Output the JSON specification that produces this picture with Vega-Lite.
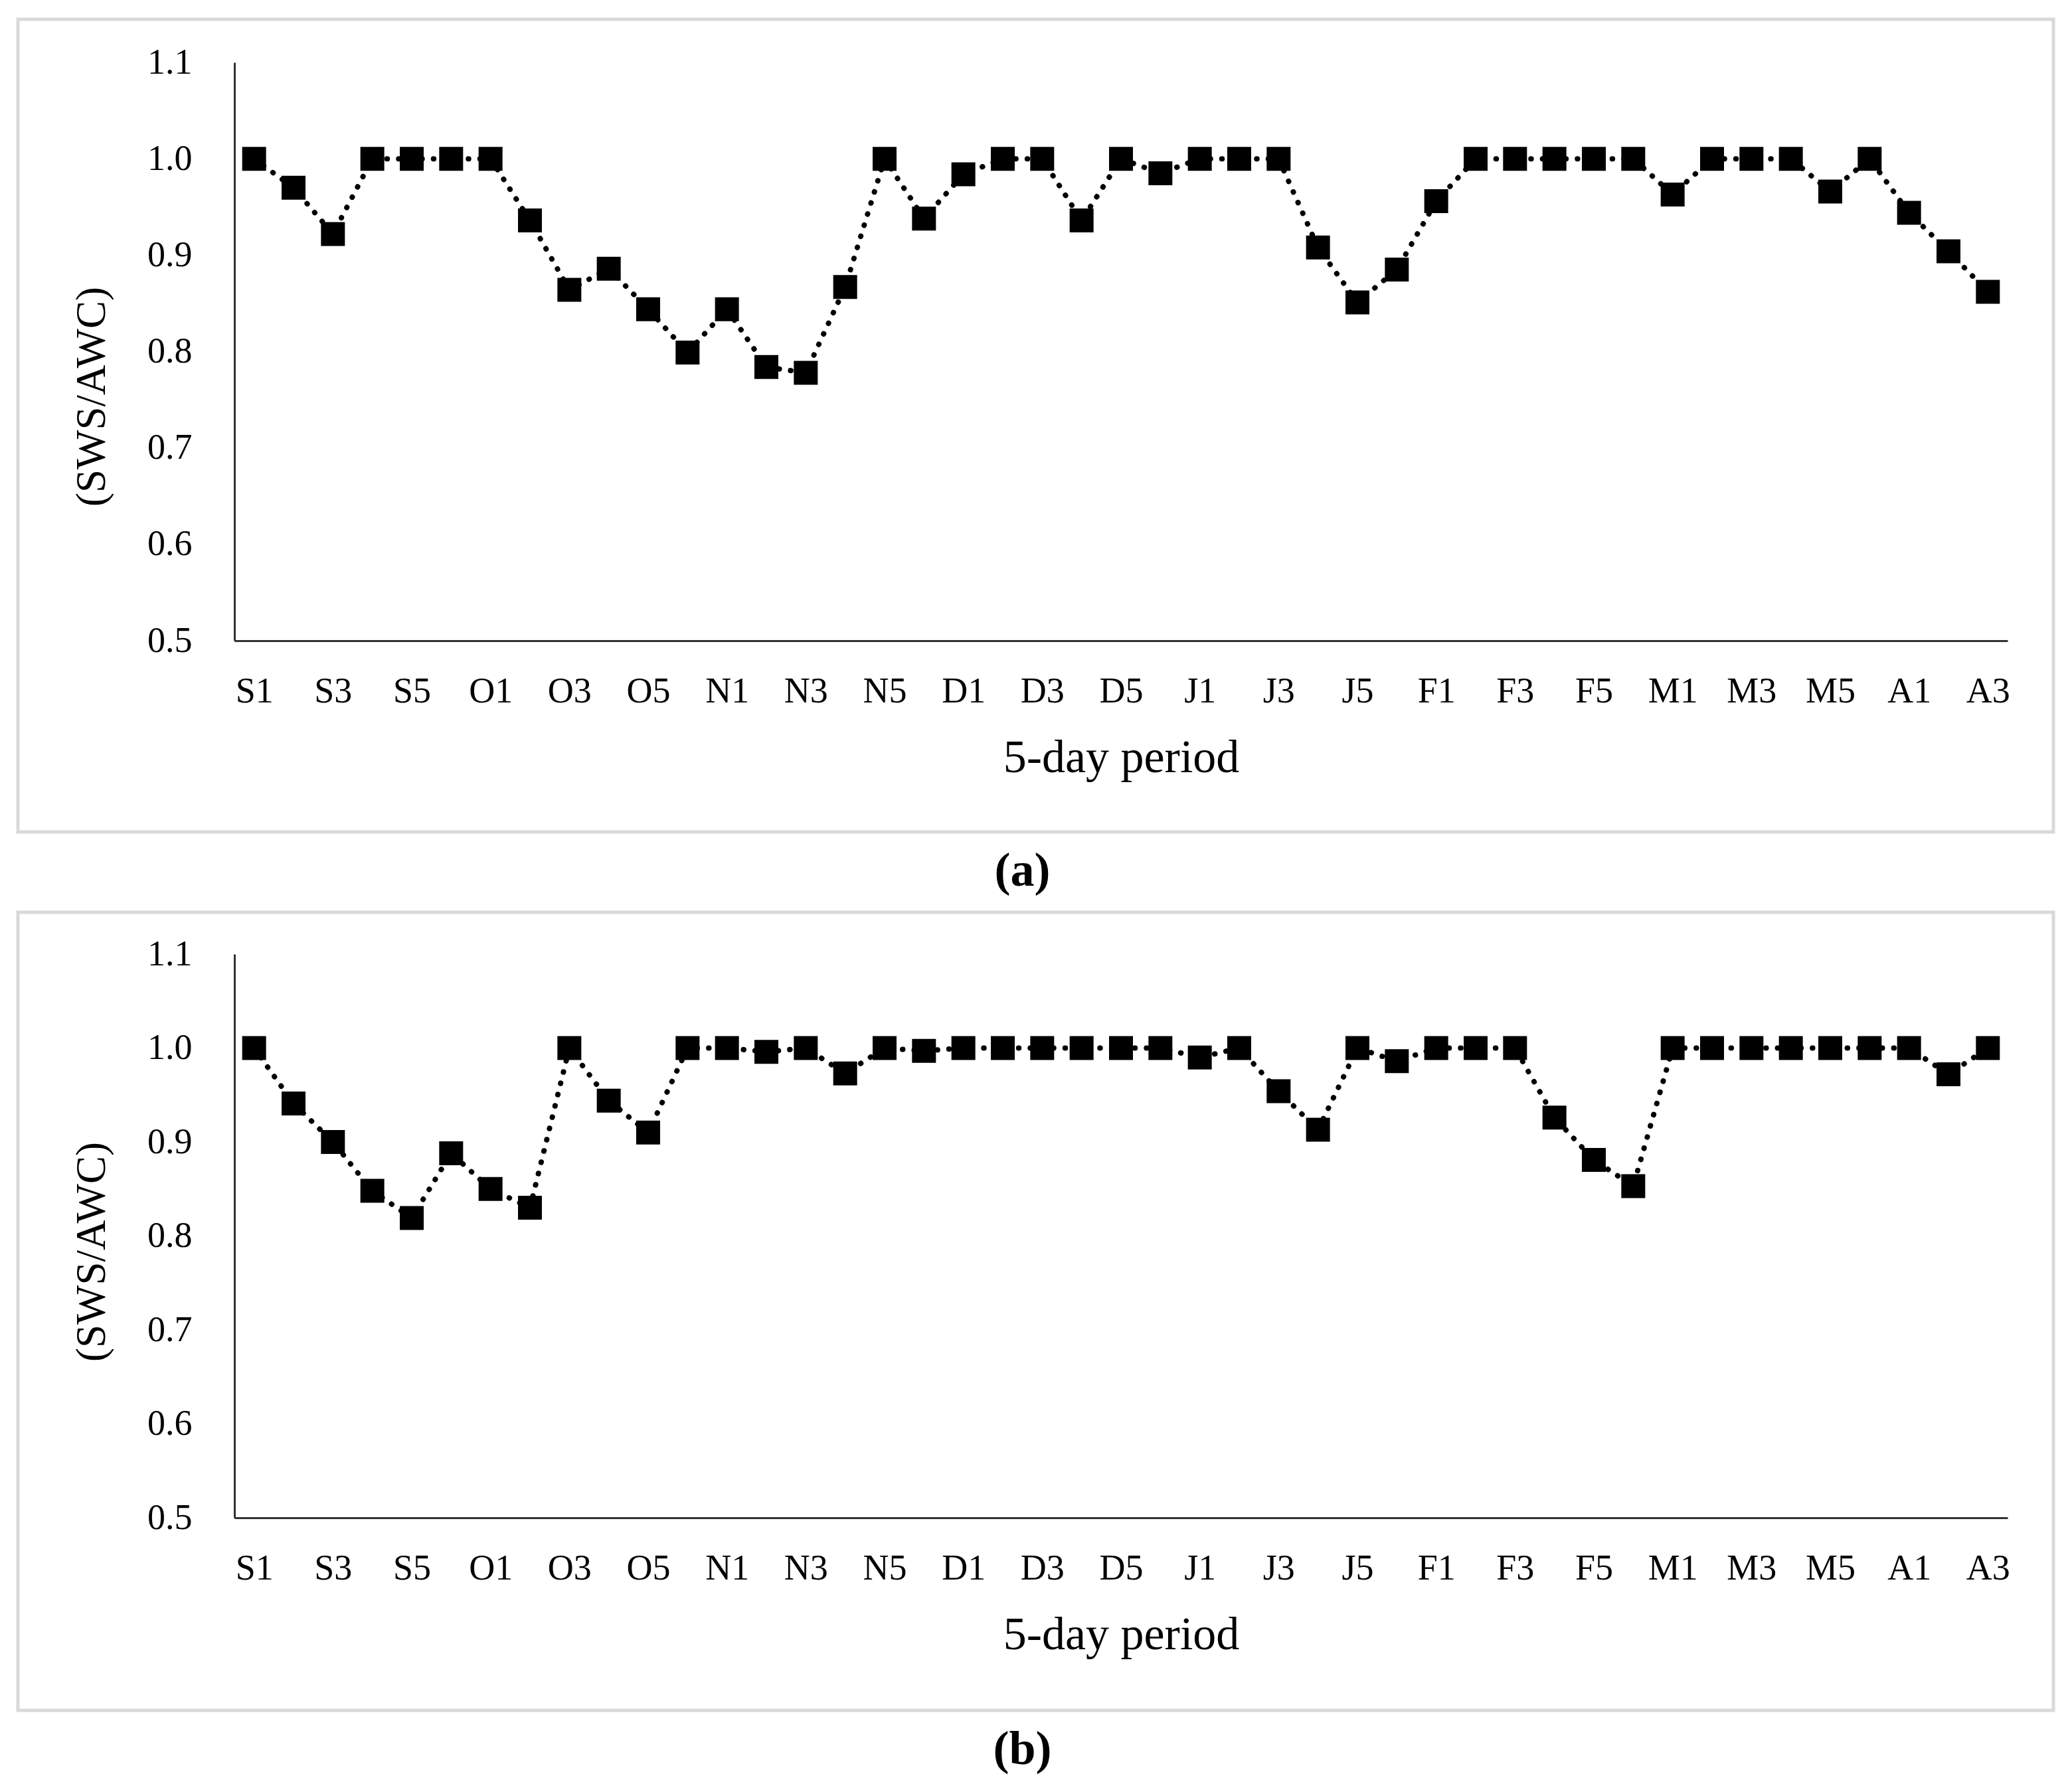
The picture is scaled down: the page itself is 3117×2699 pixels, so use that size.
{
  "$schema": "https://vega.github.io/schema/vega-lite/v6.json",
  "background": "white",
  "padding": {"left": 24, "top": 26, "right": 20, "bottom": 20},
  "spacing": 20,
  "datasets": {
    "a": [
      {"period": "S1", "value": 1.0}, {"period": "S2", "value": 0.970}, {"period": "S3", "value": 0.922}, {"period": "S4", "value": 1.0}, {"period": "S5", "value": 1.0}, {"period": "S6", "value": 1.0},
      {"period": "O1", "value": 1.0}, {"period": "O2", "value": 0.936}, {"period": "O3", "value": 0.864}, {"period": "O4", "value": 0.886}, {"period": "O5", "value": 0.844}, {"period": "O6", "value": 0.799},
      {"period": "N1", "value": 0.844}, {"period": "N2", "value": 0.784}, {"period": "N3", "value": 0.778}, {"period": "N4", "value": 0.867}, {"period": "N5", "value": 1.0}, {"period": "N6", "value": 0.938},
      {"period": "D1", "value": 0.984}, {"period": "D2", "value": 1.0}, {"period": "D3", "value": 1.0}, {"period": "D4", "value": 0.936}, {"period": "D5", "value": 1.0}, {"period": "D6", "value": 0.985},
      {"period": "J1", "value": 1.0}, {"period": "J2", "value": 1.0}, {"period": "J3", "value": 1.0}, {"period": "J4", "value": 0.908}, {"period": "J5", "value": 0.851}, {"period": "J6", "value": 0.885},
      {"period": "F1", "value": 0.956}, {"period": "F2", "value": 1.0}, {"period": "F3", "value": 1.0}, {"period": "F4", "value": 1.0}, {"period": "F5", "value": 1.0}, {"period": "F6", "value": 1.0},
      {"period": "M1", "value": 0.963}, {"period": "M2", "value": 1.0}, {"period": "M3", "value": 1.0}, {"period": "M4", "value": 1.0}, {"period": "M5", "value": 0.966}, {"period": "M6", "value": 1.0},
      {"period": "A1", "value": 0.944}, {"period": "A2", "value": 0.904}, {"period": "A3", "value": 0.862}
    ],
    "b": [
      {"period": "S1", "value": 1.0}, {"period": "S2", "value": 0.941}, {"period": "S3", "value": 0.900}, {"period": "S4", "value": 0.848}, {"period": "S5", "value": 0.819}, {"period": "S6", "value": 0.888},
      {"period": "O1", "value": 0.850}, {"period": "O2", "value": 0.830}, {"period": "O3", "value": 1.0}, {"period": "O4", "value": 0.944}, {"period": "O5", "value": 0.910}, {"period": "O6", "value": 1.0},
      {"period": "N1", "value": 1.0}, {"period": "N2", "value": 0.996}, {"period": "N3", "value": 1.0}, {"period": "N4", "value": 0.973}, {"period": "N5", "value": 1.0}, {"period": "N6", "value": 0.997},
      {"period": "D1", "value": 1.0}, {"period": "D2", "value": 1.0}, {"period": "D3", "value": 1.0}, {"period": "D4", "value": 1.0}, {"period": "D5", "value": 1.0}, {"period": "D6", "value": 1.0},
      {"period": "J1", "value": 0.990}, {"period": "J2", "value": 1.0}, {"period": "J3", "value": 0.954}, {"period": "J4", "value": 0.913}, {"period": "J5", "value": 1.0}, {"period": "J6", "value": 0.986},
      {"period": "F1", "value": 1.0}, {"period": "F2", "value": 1.0}, {"period": "F3", "value": 1.0}, {"period": "F4", "value": 0.926}, {"period": "F5", "value": 0.881}, {"period": "F6", "value": 0.853},
      {"period": "M1", "value": 1.0}, {"period": "M2", "value": 1.0}, {"period": "M3", "value": 1.0}, {"period": "M4", "value": 1.0}, {"period": "M5", "value": 1.0}, {"period": "M6", "value": 1.0},
      {"period": "A1", "value": 1.0}, {"period": "A2", "value": 0.972}, {"period": "A3", "value": 1.0}
    ]
  },
  "config": {
    "font": "Liberation Serif",
    "view": {"stroke": "#d9d9d9", "strokeWidth": 5},
    "axis": {
      "grid": false, "ticks": false,
      "labelFont": "Liberation Serif", "labelFontSize": 54, "labelColor": "#000",
      "titleFont": "Liberation Serif", "titleFontWeight": "normal", "titleColor": "#000",
      "domainColor": "#333333", "domainWidth": 3
    },
    "title": {"font": "Liberation Serif", "fontSize": 72, "fontWeight": "bold", "color": "#000", "anchor": "middle", "orient": "bottom", "offset": 24, "dx": -20}
  },
  "vconcat": [
    {
      "width": 3065, "height": 1224,
      "data": {"name": "a"},
      "title": {"text": "(a)"},
      "encoding": {
        "x": {"field": "period", "type": "ordinal", "sort": null,
          "scale": {"type": "point", "padding": 0.5, "range": [326, 2996]},
          "axis": {"values": ["S1","S3","S5","O1","O3","O5","N1","N3","N5","D1","D3","D5","J1","J3","J5","F1","F3","F5","M1","M3","M5","A1","A3"],
            "labelAngle": 0, "offset": -288, "labelPadding": 49,
            "title": "5-day period", "titleFontSize": 70, "titleY": 197, "titleBaseline": "alphabetic"}},
        "y": {"field": "value", "type": "quantitative",
          "scale": {"domain": [0.5, 1.1], "range": [936, 65], "nice": false, "zero": false},
          "axis": {"values": [0.5, 0.6, 0.7, 0.8, 0.9, 1.0, 1.1], "format": ".1f", "offset": -326, "labelPadding": 64,
            "title": "(SWS/AWC)", "titleFontSize": 63, "titleX": -215, "titleY": 568, "titleAngle": -90, "titleBaseline": "middle", "titleAlign": "center"}}
      },
      "layer": [
        {"mark": {"type": "line", "color": "#000", "strokeWidth": 8, "strokeDash": [0.5, 17], "strokeCap": "round"}},
        {"mark": {"type": "point", "shape": "square", "filled": true, "color": "#000", "opacity": 1, "size": 1296}}
      ]
    },
    {
      "width": 3065, "height": 1202,
      "data": {"name": "b"},
      "title": {"text": "(b)"},
      "encoding": {
        "x": {"field": "period", "type": "ordinal", "sort": null,
          "scale": {"type": "point", "padding": 0.5, "range": [326, 2996]},
          "axis": {"values": ["S1","S3","S5","O1","O3","O5","N1","N3","N5","D1","D3","D5","J1","J3","J5","F1","F3","F5","M1","M3","M5","A1","A3"],
            "labelAngle": 0, "offset": -290, "labelPadding": 49,
            "title": "5-day period", "titleFontSize": 70, "titleY": 197, "titleBaseline": "alphabetic"}},
        "y": {"field": "value", "type": "quantitative",
          "scale": {"domain": [0.5, 1.1], "range": [912, 63], "nice": false, "zero": false},
          "axis": {"values": [0.5, 0.6, 0.7, 0.8, 0.9, 1.0, 1.1], "format": ".1f", "offset": -326, "labelPadding": 64,
            "title": "(SWS/AWC)", "titleFontSize": 63, "titleX": -215, "titleY": 511, "titleAngle": -90, "titleBaseline": "middle", "titleAlign": "center"}}
      },
      "layer": [
        {"mark": {"type": "line", "color": "#000", "strokeWidth": 8, "strokeDash": [0.5, 17], "strokeCap": "round"}},
        {"mark": {"type": "point", "shape": "square", "filled": true, "color": "#000", "opacity": 1, "size": 1296}}
      ]
    }
  ]
}
